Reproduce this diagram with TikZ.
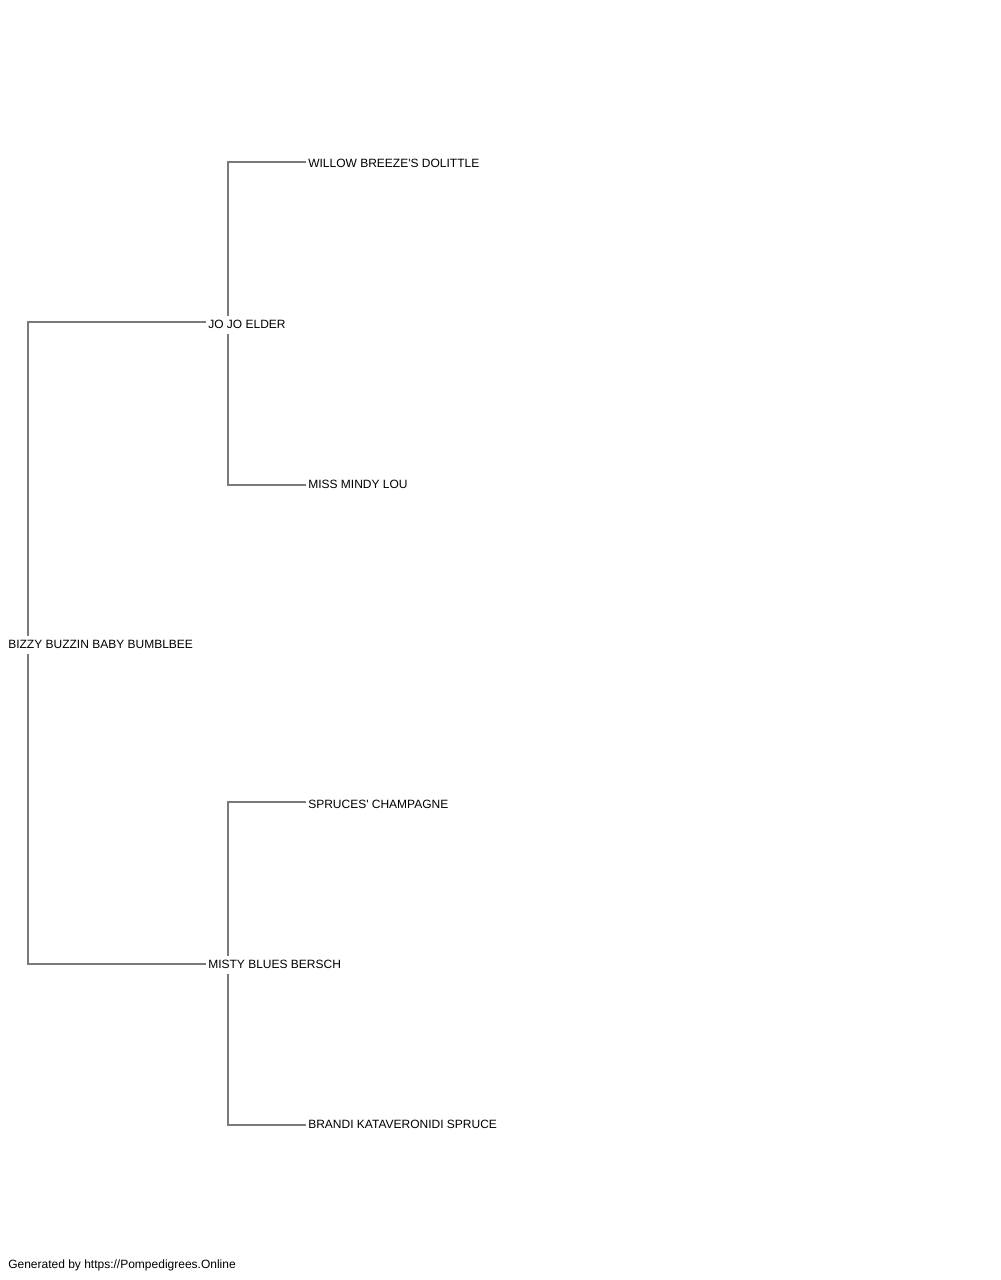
\documentclass[tikz,border=0pt]{standalone}
\usepackage{fontspec}
\setmainfont{Liberation Sans}
\usetikzlibrary{calc}
\begin{document}
\begin{tikzpicture}[x=0.75pt,y=-0.75pt,
  horse/.style={anchor=base west,inner sep=0pt,font=\fontsize{9}{10}\selectfont,text=black},
  link/.style={draw=black!52,line width=0.8pt}]
\useasboundingbox (0,0) rectangle (1000,1280);
\node[horse] (root) at (8,648) {BIZZY BUZZIN BABY BUMBLBEE};
\node[horse] (sire) at (208,328) {JO JO ELDER};
\node[horse] (dam) at (208,968) {MISTY BLUES BERSCH};
\node[horse] (ss) at (308,168) {WILLOW BREEZE\textquotesingle S DOLITTLE};
\node[horse] (sd) at (308,488) {MISS MINDY LOU};
\node[horse] (ds) at (308,808) {SPRUCES\textquotesingle{} CHAMPAGNE};
\node[horse] (dd) at (308,1128) {BRANDI KATAVERONIDI SPRUCE};
\node[horse] (foot) at (8,1268) {Generated by https://Pompedigrees.Online};
% root to parents
\draw[link] ($(root.base west)+(20,-12)$) |- ($(sire.base west)+(-2,-6)$);
\draw[link] ($(root.base west)+(20,6)$) |- ($(dam.base west)+(-2,-4)$);
% sire to its parents
\draw[link] ($(sire.base west)+(20,-12)$) |- ($(ss.base west)+(-2,-6)$);
\draw[link] ($(sire.base west)+(20,6)$) |- ($(sd.base west)+(-2,-3)$);
% dam to its parents
\draw[link] ($(dam.base west)+(20,-12)$) |- ($(ds.base west)+(-2,-6)$);
\draw[link] ($(dam.base west)+(20,6)$) |- ($(dd.base west)+(-2,-3)$);
\end{tikzpicture}
\end{document}
